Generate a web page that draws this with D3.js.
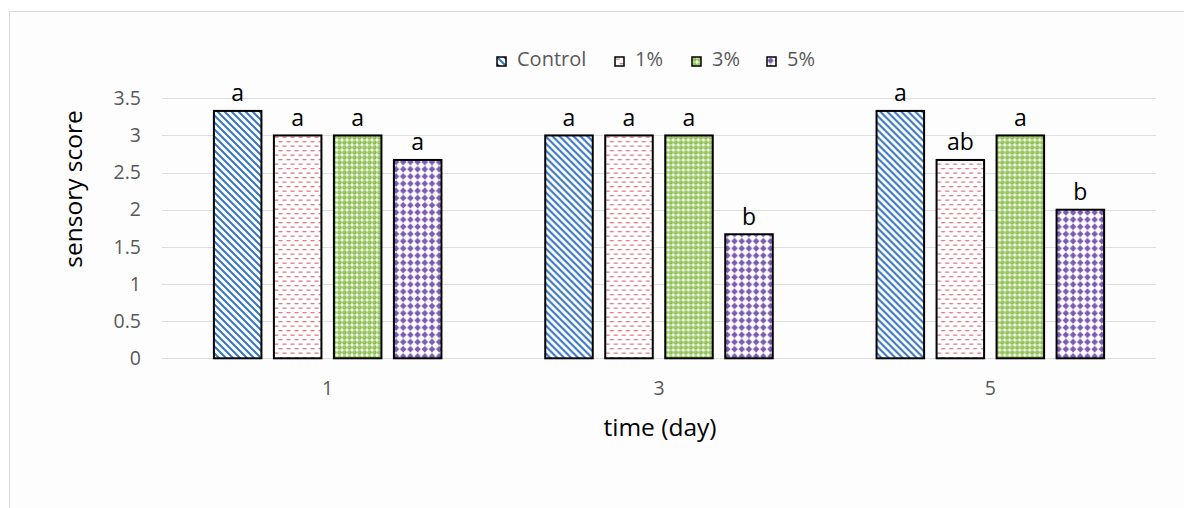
<!DOCTYPE html>
<html><head><meta charset="utf-8">
<script src="https://cdn.jsdelivr.net/npm/d3@7"></script>
<style>body{margin:0;background:#fff}svg{display:block}</style>
</head><body>
<svg id="c" width="1184" height="508"></svg>
<script>
const days = ["1","3","5"];
const series = ["Control","1%","3%","5%"];
const control = [3.33, 3.0, 3.33];
const pct1 = [3.0, 3.0, 2.67];
const pct3 = [3.0, 3.0, 3.0];
const pct5 = [2.67, 1.67, 2.0];
const letters = [["a","a","a","a"],["a","a","a","b"],["a","ab","a","b"]];
const yTicks = [0,0.5,1,1.5,2,2.5,3,3.5];
const values = [control, pct1, pct3, pct5];

const svg = d3.select("#c");
const FONT = "'Open Sans', sans-serif";
const defs = svg.append("defs");

// patterns
const pC = defs.append("pattern").attr("id","pC").attr("patternUnits","userSpaceOnUse").attr("width",7).attr("height",7);
pC.append("rect").attr("width",7).attr("height",7).attr("fill","#fff");
pC.append("path").attr("d","M-1,-1 L8,8 M-4.5,2.5 L2.5,9.5 M4.5,-2.5 L11.5,4.5").attr("stroke","#3a78c0").attr("stroke-width",2.1);

const p1 = defs.append("pattern").attr("id","p1").attr("patternUnits","userSpaceOnUse").attr("width",8).attr("height",9);
p1.append("rect").attr("width",8).attr("height",9).attr("fill","#fff");
p1.append("rect").attr("x",0.5).attr("y",1.5).attr("width",4).attr("height",1.3).attr("fill","#e07a84");
p1.append("rect").attr("x",4.5).attr("y",6).attr("width",4).attr("height",1.3).attr("fill","#e07a84");
p1.append("rect").attr("x",-3.5).attr("y",6).attr("width",4).attr("height",1.3).attr("fill","#e07a84");

const p3 = defs.append("pattern").attr("id","p3").attr("patternUnits","userSpaceOnUse").attr("width",5).attr("height",5);
p3.append("rect").attr("width",5).attr("height",5).attr("fill","#f4f9ee");
p3.append("circle").attr("cx",2.5).attr("cy",2.5).attr("r",2.2).attr("fill","#8cbd4f");
p3.append("circle").attr("cx",2.0).attr("cy",2.0).attr("r",0.8).attr("fill","#b5d88a");

const p5 = defs.append("pattern").attr("id","p5").attr("patternUnits","userSpaceOnUse").attr("width",7.2).attr("height",7.2);
p5.append("rect").attr("width",7.2).attr("height",7.2).attr("fill","#fff");
p5.append("path").attr("d","M3.6,0.3 L6.9,3.6 L3.6,6.9 L0.3,3.6 Z").attr("fill","#7d5cb0");

const fills = ["url(#pC)","url(#p1)","url(#p3)","url(#p5)"];

// chart border
svg.append("rect").attr("x",9.5).attr("y",11.5).attr("width",1200).attr("height",520)
  .attr("fill","#fdfdfd").attr("stroke","#d9d9d9").attr("stroke-width",1);

const x0 = d3.scaleBand().domain(days).range([162,1156]).padding(0);
const x1 = d3.scaleBand().domain(series).range([0,x0.bandwidth()]).paddingInner(0.208).paddingOuter(0.865);
const y = d3.scaleLinear().domain([0,3.5]).range([358.3,98.3]);

// gridlines
svg.append("g").selectAll("line").data(yTicks).join("line")
  .attr("x1",162).attr("x2",1156).attr("y1",d=>Math.round(y(d))+0.5).attr("y2",d=>Math.round(y(d))+0.5)
  .attr("stroke","#dedede").attr("stroke-width",1);

// y axis labels
const yAxis = d3.axisLeft(y).tickValues(yTicks).tickSize(0).tickPadding(0).tickFormat(d3.format("~g"));
const ga = svg.append("g").attr("transform","translate(141,0)").call(yAxis);
ga.select(".domain").remove();
ga.selectAll("text").attr("font-family",FONT).attr("font-size",19.5).attr("fill","#595959");

// x axis labels
const xAxis = d3.axisBottom(x0).tickSize(0).tickPadding(0);
const gx = svg.append("g").attr("transform","translate(0,381)").call(xAxis);
gx.select(".domain").remove();
gx.selectAll("text").attr("font-family",FONT).attr("font-size",19.5).attr("fill","#595959");

// bars
const groups = svg.append("g").selectAll("g").data(days).join("g")
  .attr("transform",d=>`translate(${x0(d)},0)`);
groups.selectAll("rect").data((d,i)=>series.map((s,j)=>({s,j,v:values[j][i]})))
  .join("rect")
  .attr("x",d=>x1(d.s)).attr("width",x1.bandwidth())
  .attr("y",d=>y(d.v)).attr("height",d=>y(0)-y(d.v))
  .attr("fill",d=>fills[d.j]).attr("stroke","#000").attr("stroke-width",2);
groups.selectAll("text").data((d,i)=>series.map((s,j)=>({s,j,v:values[j][i],t:letters[i][j]})))
  .join("text")
  .attr("x",d=>x1(d.s)+x1.bandwidth()/2).attr("y",d=>y(d.v)-9.5)
  .attr("text-anchor","middle").attr("font-family",FONT).attr("font-size",23).attr("fill","#000")
  .text(d=>d.t);

// axis titles
svg.append("text").attr("x",660).attr("y",436).attr("text-anchor","middle")
  .attr("font-family",FONT).attr("font-size",24.5).attr("fill","#000").text("time (day)");
svg.append("text").attr("transform","translate(82,189) rotate(-90)").attr("text-anchor","middle")
  .attr("font-family",FONT).attr("font-size",24.5).attr("fill","#000").text("sensory score");

// legend
const legX = [497,615,692,767];
const leg = svg.append("g").selectAll("g").data(series).join("g")
  .attr("transform",(d,i)=>`translate(${legX[i]},57)`);
leg.append("rect").attr("width",9).attr("height",9).attr("fill",(d,i)=>fills[i]).attr("stroke","#000").attr("stroke-width",1.5);
leg.append("text").attr("x",20).attr("y",9).attr("font-family",FONT).attr("font-size",20).attr("fill","#595959").text(d=>d);
</script>
</body></html>
